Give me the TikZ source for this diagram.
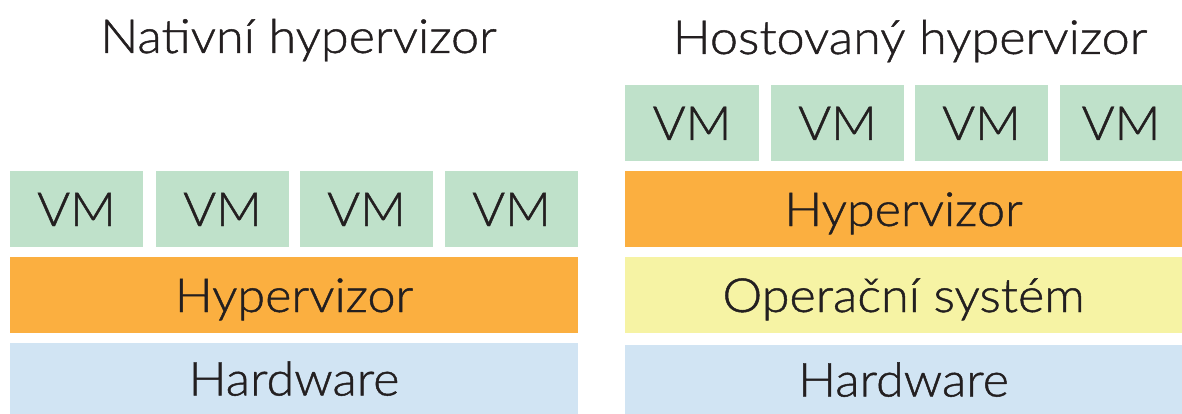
\documentclass[tikz,border=0pt]{standalone}
\usepackage{fontspec}
\setmainfont{Lato Light}[FakeStretch=1.07,FakeBold=1]
\definecolor{vmgreen}{HTML}{BFE1CA}
\definecolor{hvorange}{HTML}{FBAF40}
\definecolor{osyellow}{HTML}{F6F3A4}
\definecolor{hwblue}{HTML}{D1E4F3}
\definecolor{txt}{HTML}{231F20}
\tikzset{
  layer/.style={rectangle, inner sep=0pt, outer sep=0pt, anchor=north west,
    text=txt, font=\fontsize{47}{47}\selectfont, text height=34pt, text depth=0pt},
  vmbox/.style={layer, fill=vmgreen, minimum width=133pt, minimum height=76pt},
  title/.style={inner sep=0pt, text=txt, font=\fontsize{47}{47}\selectfont, text height=34pt, text depth=0pt}
}
\begin{document}
\begin{tikzpicture}[x=1pt,y=-1pt]
\useasboundingbox (0,0) rectangle (1182,414);
% left: native
\node[title] (t1) at (298.5,36) {Nativní hypervizor};
\node[vmbox] (lvm1) at (10,171) {VM};
\node[vmbox] (lvm2) at (156,171) {VM};
\node[vmbox] (lvm3) at (300,171) {VM};
\node[vmbox] (lvm4) at (445,171) {VM};
\node[layer, fill=hvorange, minimum width=568pt, minimum height=76pt] (lhv) at (10,257) {Hypervizor};
\node[layer, fill=hwblue, minimum width=568pt, minimum height=71pt] (lhw) at (10,343) {Hardware};
% right: hosted
\node[title] (t2) at (910,37) {Hostovaný hypervizor};
\node[vmbox, minimum width=134pt] (rvm1) at (625,85) {VM};
\node[vmbox] (rvm2) at (771,85) {VM};
\node[vmbox] (rvm3) at (915,85) {VM};
\node[vmbox, minimum width=122pt] (rvm4) at (1060,85) {VM};
\node[layer, fill=hvorange, minimum width=557pt, minimum height=76pt] (rhv) at (625,171) {Hypervizor};
\node[layer, fill=osyellow, minimum width=557pt, minimum height=76pt] (ros) at (625,257) {Operační systém};
\node[layer, fill=hwblue, minimum width=557pt, minimum height=69pt] (rhw) at (625,345) {Hardware};
\end{tikzpicture}
\end{document}
